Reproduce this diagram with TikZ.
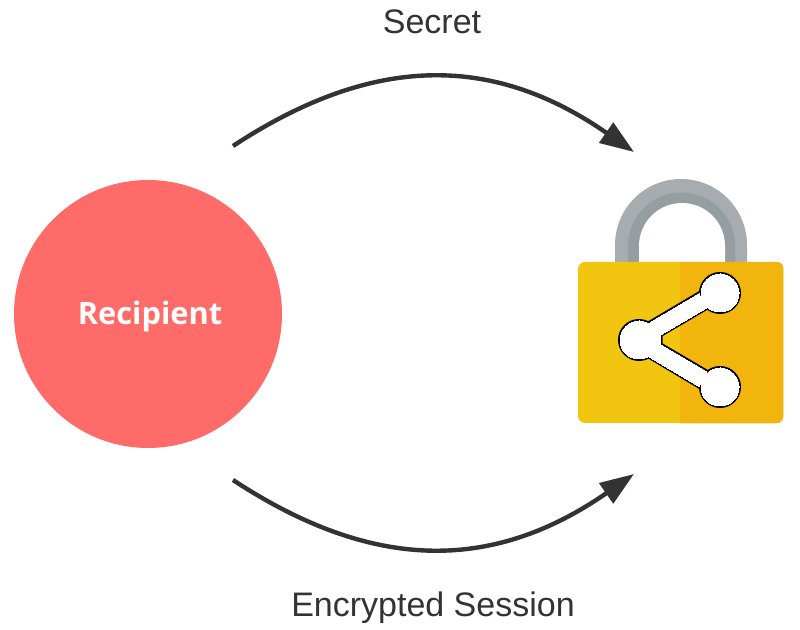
\documentclass[tikz,border=0pt]{standalone}
\usepackage{fontspec}
\setmainfont{Liberation Sans}
\newfontfamily\recipientfont{Open Sans}
\usetikzlibrary{arrows.meta}
\definecolor{linegray}{HTML}{333333}
\definecolor{recipientred}{HTML}{FF6B68}
\definecolor{lockyellow}{HTML}{F2C511}
\definecolor{lockshade}{HTML}{F1B50E}
\definecolor{shacklelight}{HTML}{A6ACAF}
\definecolor{shackledark}{HTML}{969EA1}
\tikzset{
    x=0.5pt,
    y=-0.5pt,
    >={Triangle[length=17pt,width=12pt]},
    flow/.style = {
        draw=linegray,
        line width=2.2pt,
        ->
    },
    caption/.style = {
        text=linegray,
        inner sep=0pt,
        font=\fontsize{17}{20}\selectfont
    },
    recipient/.style = {
        shape=circle,
        fill=recipientred,
        minimum size=134pt,
        inner sep=0pt,
        text=white,
        font=\recipientfont\bfseries\fontsize{15.4}{18}\selectfont
    },
    lockbody/.style = {
        shape=rectangle,
        fill=lockyellow,
        minimum width=102.5pt,
        minimum height=80.5pt,
        inner sep=0pt,
        rounded corners=3.5pt
    },
    sharedot/.style = {
        shape=circle,
        minimum size=19pt,
        inner sep=0pt
    }
}
\begin{document}
\begin{tikzpicture}
    \useasboundingbox (0,0) rectangle (800,630);

    \node[recipient] (recip) at (148,314) {\hspace*{2pt}\raisebox{-1.5pt}[\height][\depth]{Recipient}};
    \node[caption] (secret) at (432,22) {Secret};
    \node[caption] (session) at (433,608) {Encrypted Session};

    % shackle
    \fill[shacklelight] (615,262) -- (615,245) arc[start angle=180,end angle=360,radius=66] -- (747,262) -- cycle;
    \fill[shackledark] (628,262) -- (628,246) arc[start angle=180,end angle=360,radius=53.5] -- (735,262) -- cycle;
    \fill[white] (639,262) -- (639,246) arc[start angle=180,end angle=360,radius=43] -- (725,262) -- cycle;

    % lock
    \node[lockbody] (lock) at (680.5,342.5) {};
    \begin{scope}
        \clip[rounded corners=3.5pt] (lock.north west) rectangle (lock.south east);
        \fill[lockshade] (680,262) rectangle (784,424);
    \end{scope}

    % share icon, outline first and then the white on top
    \foreach \col/\wid in {black/2pt, white/0pt} {
        \draw[draw=\col, fill=\col, line width=\wid] (650,322.5) -- (699,293.5) -- (706.5,308) -- (660.5,335) -- (660.5,344.5) -- (706.5,371.5) -- (699,386.5) -- (649.5,357) -- cycle;
        \node[sharedot, draw=\col, fill=\col, line width=\wid] (sharetop) at (720,293) {};
        \node[sharedot, draw=\col, fill=\col, line width=\wid] (shareleft) at (639,340) {};
        \node[sharedot, draw=\col, fill=\col, line width=\wid] (sharebottom) at (720,387) {};
    }

    \coordinate (topstart) at (233,146);
    \coordinate (topend) at (634,152);
    \coordinate (botstart) at (233,480);
    \coordinate (botend) at (634,474);

    \path[flow] (topstart) .. controls (370,56) and (490,52) .. (topend);
    \path[flow] (botstart) .. controls (370,570) and (490,574) .. (botend);
\end{tikzpicture}
\end{document}
